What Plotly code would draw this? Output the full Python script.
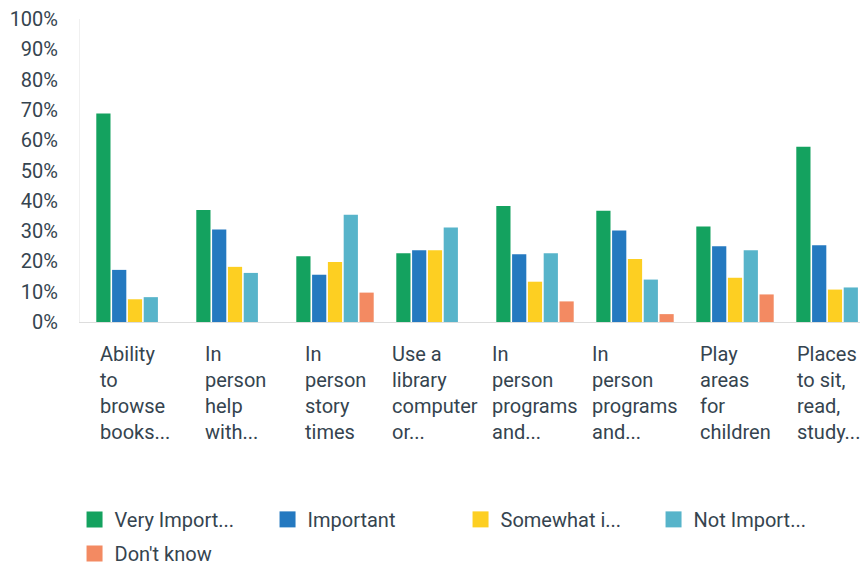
import plotly.graph_objects as go

# --------------------------------
# Data
# --------------------------------
CATEGORIES = [
    "Ability<br>to<br>browse<br>books...",
    "In<br>person<br>help<br>with...",
    "In<br>person<br>story<br>times",
    "Use a<br>library<br>computer<br>or...",
    "In<br>person<br>programs<br>and...",
    "In<br>person<br>programs<br>and...",
    "Play<br>areas<br>for<br>children",
    "Places<br>to sit,<br>read,<br>study...",
]
SERIES_NAMES = ["Very Import...", "Important", "Somewhat i...", "Not Import...", "Don't know"]

very_important = [68.8, 37.0, 21.7, 22.7, 38.3, 36.7, 31.5, 57.8]
important      = [17.2, 30.5, 15.6, 23.7, 22.4, 30.2, 25.0, 25.3]
somewhat       = [7.5, 18.2, 19.8, 23.7, 13.3, 20.8, 14.6, 10.7]
not_important  = [8.2, 16.2, 35.4, 31.2, 22.7, 14.0, 23.7, 11.4]
dont_know      = [0.0, 0.0, 9.7, 0.0, 6.8, 2.6, 9.1, 0.0]

COLORS = ["#14a25f", "#2479c0", "#fdcf22", "#57b4ca", "#f38a62"]
TEXT_COLOR = "#35444f"
FONT = "Roboto"

# --------------------------------
# Figure
# the page body puts the chart 8px in from the corner, so the figure is
# sized to fit the 868x573 window without scrollbars
# --------------------------------
x_idx = list(range(len(CATEGORIES)))
fig = go.Figure()
for name, vals, col in zip(SERIES_NAMES,
                           [very_important, important, somewhat, not_important, dont_know],
                           COLORS):
    fig.add_trace(go.Bar(name=name, x=x_idx, y=vals, showlegend=False, legendgroup=name,
                         marker=dict(color=col, line_width=0)))

# legend-only entries so the swatches come out bigger than the bar default
for name, col in zip(SERIES_NAMES, COLORS):
    fig.add_trace(go.Scatter(
        name=name, x=[None], y=[None], mode="markers", legendgroup=name,
        marker=dict(symbol="square", size=16, color=col),
    ))

# category labels: multi-line, left aligned, block centred under each group
for i, lab in enumerate(CATEGORIES):
    fig.add_annotation(
        x=i, y=0, xref="x", yref="paper", yanchor="top", yshift=-18,
        xshift=-7 if i == len(CATEGORIES) - 1 else 0,   # keep last one inside
        text=lab, showarrow=False, align="left",
        font=dict(family=FONT, size=20, color=TEXT_COLOR),
    )

fig.update_layout(
    width=852, height=557,
    barmode="group", bargap=0.21, bargroupgap=0.1,
    plot_bgcolor="white", paper_bgcolor="white",
    margin=dict(l=72, r=0, t=11, b=243, autoexpand=False),
    font=dict(family=FONT, color=TEXT_COLOR),
    legend=dict(
        orientation="h", x=-0.007, y=-0.828, xanchor="left", yanchor="bottom",
        entrywidth=148, entrywidthmode="pixels", itemsizing="trace",
        tracegroupgap=5,
        font=dict(family=FONT, size=20, color=TEXT_COLOR),
    ),
)
fig.update_xaxes(
    range=[-0.55, 7.25], showticklabels=False, showgrid=False, automargin=False,
    showline=True, linecolor="#dddddd", linewidth=1, zeroline=False,
)
fig.update_yaxes(
    range=[0, 100], dtick=10, ticksuffix="%", showgrid=False, zeroline=False,
    automargin=False, showline=True, linecolor="#f0f0f0", ticks="",
    ticklabelstandoff=17, ticklabeloverflow="allow",
    tickfont=dict(family=FONT, size=20, color=TEXT_COLOR),
)

fig.write_html("out.html")
